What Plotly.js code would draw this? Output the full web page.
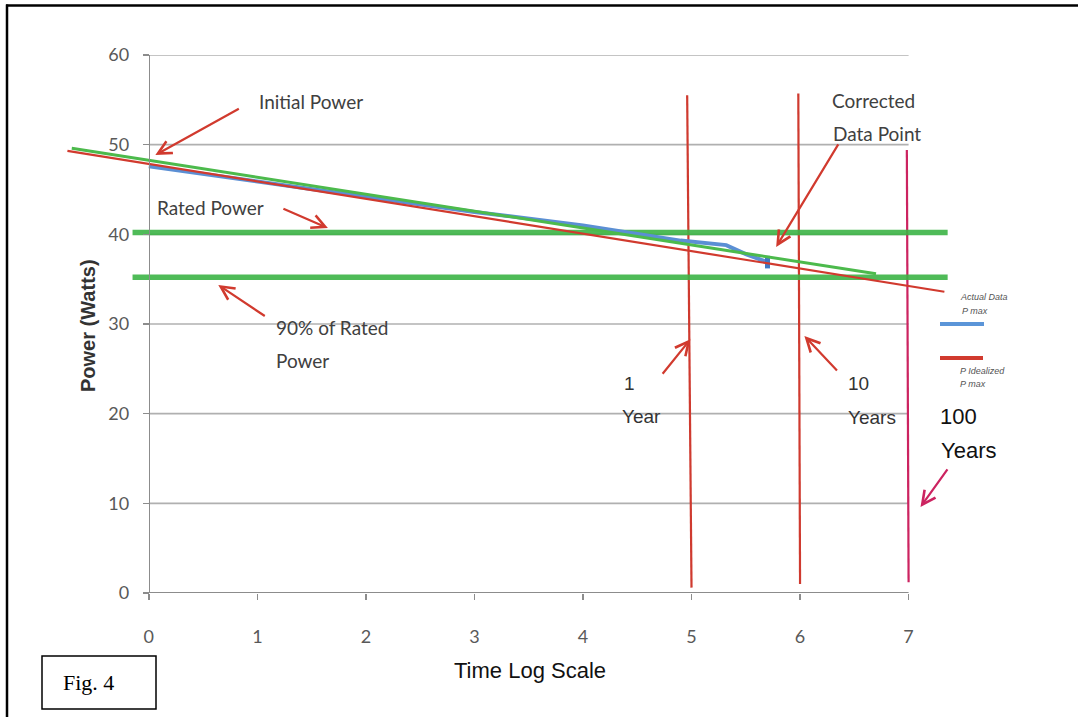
<!DOCTYPE html>
<html>
<head>
<meta charset="utf-8">
<script src="https://cdn.plot.ly/plotly-3.0.1.min.js"></script>
<style>html,body{margin:0;padding:0;background:#fff;}#chart{width:1078px;height:717px;}</style>
</head>
<body>
<div id="chart"></div>
<script>
// ---- data ----
const xTicks = [0, 1, 2, 3, 4, 5, 6, 7];
const yTicks = [0, 10, 20, 30, 40, 50, 60];

// P Idealized P max (red trend)
const idealX = [-0.75, 7.33];
const idealY = [49.3, 33.6];

// green fit line
const fitX = [-0.71, 6.7];
const fitY = [49.6, 35.6];

// Actual Data P max (blue)
const actualX = [0, 1, 2, 3, 4, 4.9, 5.32, 5.5, 5.7];
const actualY = [47.6, 45.9, 44.1, 42.5, 41.0, 39.3, 38.8, 37.8, 36.9];

// corrected data point
const correctedX = [5.7, 5.7];
const correctedY = [36.2, 37.6];

// rated power / 90% of rated power
const ratedPower = 40.2;
const ninetyPower = 35.2;
const levelSpan = [-0.15, 7.36];

// milestone verticals (1, 10, 100 years)
const yearX = [5, 6, 7];
const yearTop = [55.5, 55.7, 49.4];
const yearBottom = [0.6, 1.0, 1.2];
const yearColor = ['#cf3a2f', '#cf3a2f', '#cc2360'];

const xRange = [-0.8, 7.4];
const yRange = [0, 60];

// ---- traces ----
const traces = [];
const gx = [], gy = [];
yTicks.filter(v => v > 0).forEach(v => { gx.push(xTicks[0], xTicks[xTicks.length - 1], null); gy.push(v, v, null); });
traces.push({x: gx, y: gy, mode: 'lines', line: {color: '#b0b0b0', width: 1.6}});
traces.push({x: [xTicks[0], xTicks[xTicks.length - 1]], y: [0, 0], mode: 'lines', line: {color: '#8c8c8c', width: 2}});

yearX.forEach((x, i) => {
  traces.push({x: [x - 0.04 * (i === 0 ? 1 : 0.4), x], y: [yearTop[i], yearBottom[i]], mode: 'lines',
    line: {color: yearColor[i], width: 2.2}});
});

traces.push({x: levelSpan, y: [ratedPower, ratedPower], mode: 'lines', line: {color: 'rgba(60,180,70,0.9)', width: 5.5}});
traces.push({x: levelSpan, y: [ninetyPower, ninetyPower], mode: 'lines', line: {color: 'rgba(60,180,70,0.9)', width: 5.5}});

traces.push({x: actualX, y: actualY, mode: 'lines', line: {color: '#5b8fd4', width: 4}});
traces.push({x: correctedX, y: correctedY, mode: 'lines', line: {color: '#3f78c4', width: 5}});
traces.push({x: idealX, y: idealY, mode: 'lines', line: {color: '#d13a2e', width: 2.2}});
traces.push({x: fitX, y: fitY, mode: 'lines', line: {color: '#4cba4c', width: 3}});

// ---- helpers for paper coordinates ----
const L = 62, T = 55, PW = 890, PH = 538;
const px = v => (v - L) / PW;
const py = v => (T + PH - v) / PH;

const labelFont = {family: 'Lato, "Open Sans", sans-serif', size: 19, color: '#404040'};
const narrowFont = {family: '"Liberation Sans", Arial, sans-serif', size: 19, color: '#333'};
const arrowRed = '#d13a2e';

function arrow(x, y, ax, ay, color) {
  return {x: x, y: y, xref: 'x', yref: 'y', ax: ax, ay: ay, text: '', showarrow: true,
    arrowhead: 5, arrowsize: 1.2, arrowwidth: 2.2, arrowcolor: color || arrowRed, standoff: 0, startstandoff: 0};
}
function label(text, x, y, font, anchor) {
  return {x: x, y: y, xref: 'paper', yref: 'paper', text: text, showarrow: false, font: font,
    xanchor: anchor || 'center', yanchor: 'middle'};
}

const annotations = [
  label('Initial Power', px(311), py(101), labelFont),
  arrow(0.06, 48.85, 85, -47),
  label('Rated Power', px(155), py(207), labelFont, 'left'),
  arrow(1.65, 40.7, -46, -20),
  label('90% of Rated', px(274), py(327), labelFont, 'left'),
  label('Power', px(274), py(360), labelFont, 'left'),
  arrow(0.64, 34.35, 48, 32),
  label('Corrected', px(873), py(100), labelFont),
  label('Data Point', px(877), py(133), labelFont),
  arrow(5.78, 38.6, 63, -104),
  label('1', px(629), py(383), narrowFont),
  label('Year', px(641), py(416), narrowFont),
  arrow(4.99, 28.3, -29, 36),
  label('10', px(858), py(383), narrowFont),
  label('Years', px(872), py(417), narrowFont),
  arrow(6.04, 28.66, 34, 36),
  label('100', px(958), py(416), {family: '"Liberation Sans", Arial, sans-serif', size: 22, color: '#111'}),
  label('Years', px(968), py(450), {family: '"Liberation Sans", Arial, sans-serif', size: 22, color: '#111'}),
  arrow(7.11, 9.6, 28, -39, '#cc2360'),
  // legend text
  label('<i>Actual Data</i>', px(958), py(297), {family: 'Arial, sans-serif', size: 9, color: '#555'}, 'left'),
  label('<i>P max</i>', px(960), py(311), {family: 'Arial, sans-serif', size: 9, color: '#555'}, 'left'),
  label('<i>P Idealized</i>', px(958), py(371), {family: 'Arial, sans-serif', size: 9, color: '#555'}, 'left'),
  label('<i>P max</i>', px(958), py(384), {family: 'Arial, sans-serif', size: 9, color: '#555'}, 'left'),
  // axis titles
  label('Time Log Scale', px(530), py(670), {family: '"Liberation Sans", Arial, sans-serif', size: 22, color: '#111'}),
  Object.assign(label('<b>Power (Watts)</b>', px(88), py(326), {family: '"Liberation Sans", Arial, sans-serif', size: 20, color: '#333'}), {textangle: -90}),
  // figure label
  label('Fig. 4', px(61), py(682), {family: '"Liberation Serif", "Times New Roman", serif', size: 22, color: '#000'}, 'left')
];

const shapes = [
  {type: 'line', xref: 'paper', yref: 'paper', x0: px(7), x1: px(7), y0: py(4.5), y1: py(717), line: {color: '#000', width: 2.5}},
  {type: 'line', xref: 'paper', yref: 'paper', x0: px(6), x1: px(1078), y0: py(5.5), y1: py(5.5), line: {color: '#000', width: 2.5}},
  {type: 'rect', xref: 'paper', yref: 'paper', x0: px(42), x1: px(156), y0: py(656), y1: py(709), line: {color: '#000', width: 1.5}},
  // legend swatches
  {type: 'line', xref: 'paper', yref: 'paper', x0: px(940), x1: px(984), y0: py(324), y1: py(324), line: {color: '#5b95d8', width: 4}},
  {type: 'line', xref: 'paper', yref: 'paper', x0: px(940), x1: px(983), y0: py(358), y1: py(358), line: {color: '#d13a2e', width: 4}}
];

const layout = {
  width: 1078, height: 717,
  margin: {l: L, r: 1078 - L - PW, t: T, b: 717 - T - PH, pad: 0},
  paper_bgcolor: '#ffffff', plot_bgcolor: 'rgba(0,0,0,0)',
  showlegend: false, hovermode: false,
  xaxis: {range: xRange, tickvals: xTicks, ticktext: xTicks.map(String), showgrid: false, zeroline: false, showline: false,
    ticks: 'outside', ticklen: 6, tickcolor: '#8c8c8c', tickwidth: 1.5, ticklabelstandoff: 21,
    tickfont: {family: 'Lato, "Open Sans", sans-serif', size: 18, color: '#595959'}, fixedrange: true},
  yaxis: {range: yRange, tickvals: yTicks, ticktext: yTicks.map(String), anchor: 'free',
    position: (0 - xRange[0]) / (xRange[1] - xRange[0]),
    showgrid: false, zeroline: false, showline: true, linecolor: '#8c8c8c', linewidth: 1.5,
    ticks: 'outside', ticklen: 6, tickcolor: '#8c8c8c', tickwidth: 1.5, ticklabelstandoff: 10,
    tickfont: {family: 'Lato, "Open Sans", sans-serif', size: 18, color: '#595959'}, fixedrange: true},
  annotations: annotations,
  shapes: shapes
};

Plotly.newPlot('chart', traces, layout, {displayModeBar: false, staticPlot: true});
</script>
</body>
</html>
